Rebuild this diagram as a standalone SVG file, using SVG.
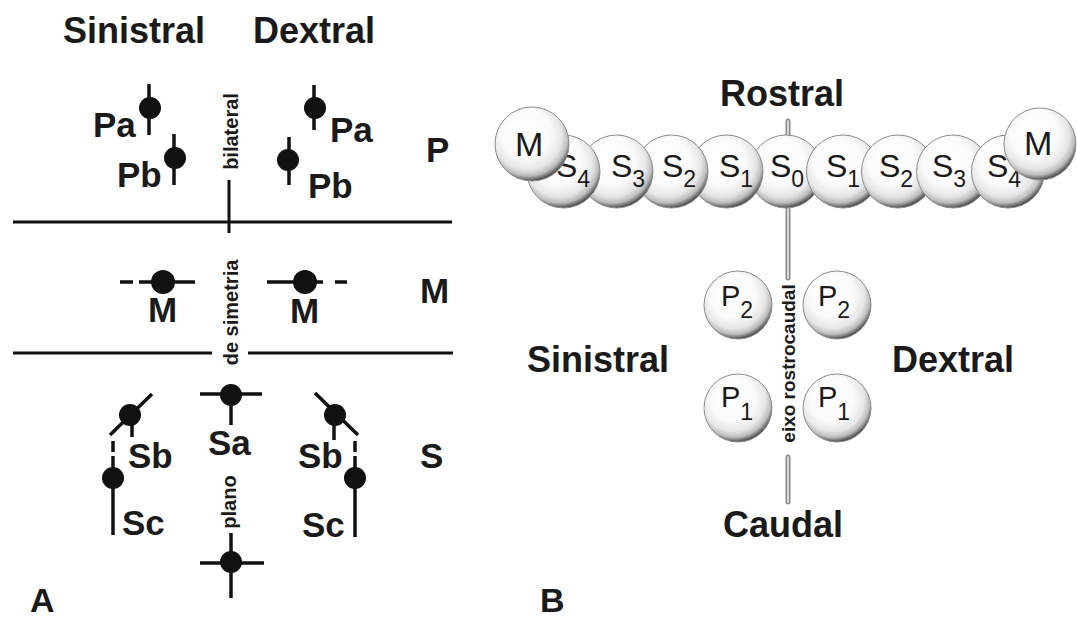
<svg xmlns="http://www.w3.org/2000/svg" width="1077" height="621" viewBox="0 0 1077 621">
<defs>
<radialGradient id="ballg" cx="0.45" cy="0.4" r="0.6" fx="0.38" fy="0.3">
<stop offset="0" stop-color="#ffffff"/>
<stop offset="0.55" stop-color="#fbfbfb"/>
<stop offset="0.78" stop-color="#e6e6e6"/>
<stop offset="0.9" stop-color="#bcbcbc"/>
<stop offset="0.97" stop-color="#6e6e6e"/>
<stop offset="1" stop-color="#4a4a4a"/>
</radialGradient>
</defs>
<style>
.h{font-family:"Liberation Sans",Arial,sans-serif;font-weight:bold;font-size:36px;fill:#1a1a1a}
.pn{font-family:"Liberation Sans",Arial,sans-serif;font-weight:bold;font-size:34px;fill:#1a1a1a}
.lb{font-family:"Liberation Sans",Arial,sans-serif;font-weight:bold;font-size:35px;fill:#1a1a1a}
.rot{font-family:"Liberation Sans",Arial,sans-serif;font-weight:bold;font-size:20px;fill:#1a1a1a;text-anchor:middle}
.bl{font-family:"Liberation Sans",Arial,sans-serif;font-size:32px;fill:#1a1a1a}
.pl{font-family:"Liberation Sans",Arial,sans-serif;font-size:29px;fill:#1a1a1a}
.sub{font-size:23px}
.ln{stroke:#111;stroke-width:3;fill:none}
.st{stroke:#111;stroke-width:3.5;fill:none;stroke-linecap:butt}
.dot{fill:#111}
.ball{fill:url(#ballg);stroke:#8c8c8c;stroke-width:1}
.axo{stroke:#8a8a8a;stroke-width:5;stroke-linecap:round}
.axi{stroke:#d6d6d6;stroke-width:2;stroke-linecap:round}
</style>
<rect width="1077" height="621" fill="#ffffff"/>

<!-- Panel A -->
<g id="panelA-headers">
<text class="h" x="63" y="43">Sinistral</text>
<text class="h" x="253" y="43">Dextral</text>
<text class="lb" x="426" y="162">P</text>
<text class="lb" x="420" y="303">M</text>
<text class="lb" x="420" y="468">S</text>
<text class="pn" x="30" y="612">A</text>
</g>

<g id="planes">
<line class="ln" x1="13" y1="222" x2="452" y2="222"/>
<line class="ln" x1="229" y1="180" x2="229" y2="233"/>
<line class="ln" x1="13" y1="353" x2="212" y2="353"/>
<line class="ln" x1="248" y1="353" x2="453" y2="353"/>
<text class="rot" transform="translate(238,131.5) rotate(-90)">bilateral</text>
<text class="rot" transform="translate(238,312.5) rotate(-90)">de simetria</text>
<text class="rot" transform="translate(236,502) rotate(-90)">plano</text>
</g>

<g id="Pa-left">
<line class="st" x1="149" y1="84" x2="149" y2="135"/>
<circle class="dot" cx="150" cy="108" r="11"/>
<text class="lb" x="93" y="137">Pa</text>
</g>
<g id="Pb-left">
<line class="st" x1="174" y1="134" x2="174" y2="185"/>
<circle class="dot" cx="175" cy="158" r="11"/>
<text class="lb" x="117" y="187">Pb</text>
</g>
<g id="Pa-right">
<line class="st" x1="314" y1="85" x2="314" y2="130"/>
<circle class="dot" cx="315" cy="108" r="11"/>
<text class="lb" x="330" y="142">Pa</text>
</g>
<g id="Pb-right">
<line class="st" x1="289" y1="137" x2="289" y2="185"/>
<circle class="dot" cx="288" cy="160" r="11"/>
<text class="lb" x="308" y="198">Pb</text>
</g>

<g id="M-left">
<line class="st" x1="120" y1="282" x2="133" y2="282"/>
<line class="st" x1="139" y1="282" x2="195" y2="282"/>
<circle class="dot" cx="163" cy="282" r="12"/>
<text class="lb" x="148" y="322">M</text>
</g>
<g id="M-right">
<line class="st" x1="267" y1="282" x2="323" y2="282"/>
<line class="st" x1="335" y1="282" x2="347" y2="282"/>
<circle class="dot" cx="305" cy="282" r="12"/>
<text class="lb" x="290" y="323">M</text>
</g>

<g id="Sb-left">
<line class="st" x1="110" y1="435" x2="152" y2="394"/>
<line class="st" x1="132" y1="415" x2="132" y2="437"/>
<circle class="dot" cx="130" cy="415" r="11"/>
<text class="lb" x="128" y="468">Sb</text>
</g>
<g id="Sc-left">
<line class="st" x1="113" y1="441" x2="113" y2="452"/>
<line class="st" x1="113" y1="456" x2="113" y2="535"/>
<circle class="dot" cx="113" cy="478" r="11"/>
<text class="lb" x="122" y="535">Sc</text>
</g>
<g id="Sa">
<line class="st" x1="200" y1="394" x2="262" y2="394"/>
<line class="st" x1="231" y1="395" x2="231" y2="425"/>
<circle class="dot" cx="231" cy="395" r="11"/>
<text class="lb" x="208" y="455">Sa</text>
</g>
<g id="S-bottom">
<line class="st" x1="200" y1="563" x2="264" y2="563"/>
<line class="st" x1="231" y1="533" x2="231" y2="598"/>
<circle class="dot" cx="231" cy="562" r="11"/>
</g>
<g id="Sb-right">
<line class="st" x1="315" y1="393" x2="358" y2="435"/>
<line class="st" x1="334" y1="415" x2="334" y2="440"/>
<circle class="dot" cx="335" cy="415" r="11"/>
<text class="lb" x="298" y="468">Sb</text>
</g>
<g id="Sc-right">
<line class="st" x1="355" y1="441" x2="355" y2="452"/>
<line class="st" x1="355" y1="456" x2="355" y2="537"/>
<circle class="dot" cx="355" cy="478" r="11"/>
<text class="lb" x="302" y="537">Sc</text>
</g>

<!-- Panel B -->
<g id="panelB-labels">
<text class="h" x="720" y="106">Rostral</text>
<text class="h" x="723" y="537">Caudal</text>
<text class="h" x="527" y="372">Sinistral</text>
<text class="h" x="892" y="372">Dextral</text>
<text class="pn" x="540" y="612">B</text>
</g>

<g id="axis">
<line class="axo" x1="788" y1="121" x2="788" y2="160"/>
<line class="axi" x1="788" y1="121" x2="788" y2="160"/>
<line class="axo" x1="788" y1="200" x2="788" y2="278"/>
<line class="axi" x1="788" y1="200" x2="788" y2="278"/>
<line class="axo" x1="788" y1="457" x2="788" y2="502"/>
<line class="axi" x1="788" y1="457" x2="788" y2="502"/>
<text class="rot" style="font-size:19px" transform="translate(795,363.5) rotate(-90)">eixo rostrocaudal</text>
</g>

<g id="S0"><circle class="ball" cx="786" cy="171.5" r="36.5"/><text class="bl" x="770" y="177">S<tspan class="sub" dy="10">0</tspan></text></g>
<g id="S1-left"><circle class="ball" cx="726.5" cy="171.5" r="36.5"/><text class="bl" x="719" y="177">S<tspan class="sub" dy="10">1</tspan></text></g>
<g id="S1-right"><circle class="ball" cx="843" cy="171.5" r="36.5"/><text class="bl" x="826" y="177">S<tspan class="sub" dy="10">1</tspan></text></g>
<g id="S2-left"><circle class="ball" cx="671.5" cy="171.5" r="36.5"/><text class="bl" x="662" y="177">S<tspan class="sub" dy="10">2</tspan></text></g>
<g id="S2-right"><circle class="ball" cx="898" cy="171.5" r="36.5"/><text class="bl" x="879" y="177">S<tspan class="sub" dy="10">2</tspan></text></g>
<g id="S3-left"><circle class="ball" cx="616.5" cy="171.5" r="36.5"/><text class="bl" x="611" y="177">S<tspan class="sub" dy="10">3</tspan></text></g>
<g id="S3-right"><circle class="ball" cx="953" cy="171.5" r="36.5"/><text class="bl" x="932" y="177">S<tspan class="sub" dy="10">3</tspan></text></g>
<g id="S4-left"><circle class="ball" cx="563.5" cy="171.5" r="36.5"/><text class="bl" x="556" y="177">S<tspan class="sub" dy="10">4</tspan></text></g>
<g id="S4-right"><circle class="ball" cx="1008" cy="171.5" r="36.5"/><text class="bl" x="987" y="177">S<tspan class="sub" dy="10">4</tspan></text></g>
<g id="M-ball-left"><circle class="ball" cx="532" cy="144" r="37"/><text class="bl" style="font-size:34px" x="515" y="156">M</text></g>
<g id="M-ball-right"><circle class="ball" cx="1040" cy="144" r="36"/><text class="bl" style="font-size:34px" x="1024" y="155">M</text></g>

<g id="P2-left"><circle class="ball" cx="738" cy="305" r="34"/><text class="pl" x="721" y="306">P<tspan class="sub" dy="12">2</tspan></text></g>
<g id="P2-right"><circle class="ball" cx="837" cy="305" r="34"/><text class="pl" x="818" y="306">P<tspan class="sub" dy="12">2</tspan></text></g>
<g id="P1-left"><circle class="ball" cx="738" cy="408" r="34"/><text class="pl" x="721" y="407">P<tspan class="sub" dy="13">1</tspan></text></g>
<g id="P1-right"><circle class="ball" cx="837" cy="408" r="34"/><text class="pl" x="818" y="407">P<tspan class="sub" dy="13">1</tspan></text></g>
</svg>
